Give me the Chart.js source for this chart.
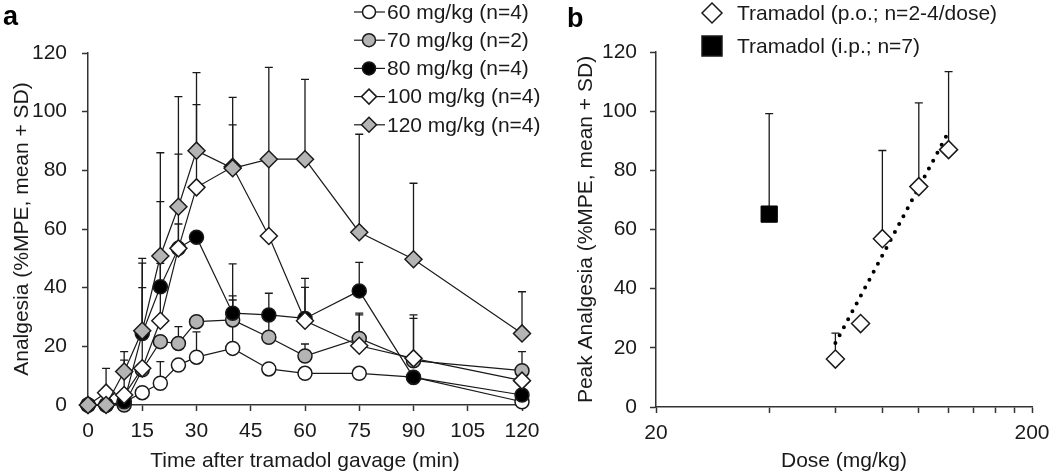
<!DOCTYPE html>
<html>
<head>
  <title>Tramadol analgesia</title>
  <script src="https://cdn.jsdelivr.net/npm/chart.js"></script>
  <style>
    body { margin: 0; background: #fff; }
    .panel { position: absolute; top: 0; }
  </style>
</head>
<body>
  <canvas id="chartA" class="panel" width="560" height="475" style="left:0"></canvas>
  <canvas id="chartB" class="panel" width="490" height="475" style="left:560px"></canvas>

  <script>
    // panel a: time course, %MPE (mean), SD drawn upward only
    const times = [0, 5, 10, 15, 20, 25, 30, 40, 50, 60, 75, 90, 120];
    const timeTicks = [0, 15, 30, 45, 60, 75, 90, 105, 120];

    const mean60 = [0, 0, 1, 4.2, 7.4, 13.6, 16.3, 19.3, 12.3, 10.8, 10.8, 9.5, 1.1];
    const sd60 = [null, null, null, null, 7.4, null, 8.6, 16.5, null, null, null, null, null];
    const mean70 = [0, 0, 0, 12, 21.6, 21.0, 28.4, 29.0, 23.1, 16.7, 22.7, 15.1, 11.7];
    const sd70 = [null, null, null, null, null, 5.7, null, 8.2, 7, 4.1, 8.6, 15.6, 6.5];
    const mean80 = [0, 0, 1.1, 24.4, 40.3, 53.4, 57.2, 31.3, 30.7, 29.5, 38.9, 9.4, 3.4];
    const sd80 = [null, null, null, 24, 29, 8.3, null, 16.8, 7.4, 13.7, 9.7, null, null];
    const mean100 = [0, 4.2, 3.4, 12.5, 28.7, 53.4, 74.2, 81.2, 57.6, 28.7, 20.2, 15.9, 8.3];
    const sd100 = [null, 8.3, 11.9, 27.5, 19.6, 32.1, 28.2, 14.3, 26, 11.4, 10.5, 13.6, null];
    const mean120 = [0, 0, 11.4, 25.3, 50.8, 67.6, 86.7, 80.7, 83.8, 83.8, 58.9, 49.7, 24.4];
    const sd120 = [null, null, 6.8, 24.7, 35.2, 37.5, 26.6, 24.2, 31.3, 27.2, 33.4, 25.9, 14.2];

    const seriesNames = ['60 mg/kg (n=4)', '70 mg/kg (n=2)', '80 mg/kg (n=4)', '100 mg/kg (n=4)', '120 mg/kg (n=4)'];

    // panel b: peak analgesia vs dose (log axis)
    const doseOral = [60, 70, 80, 100, 120];
    const peakOral = [16.2, 28.2, 56.9, 74.5, 87.0];
    const sdOral = [8.8, null, 29.8, 28.3, 26.4];
    const doseIp = [40];
    const peakIp = [65.2];
    const sdIp = [34];
    const fitDose = [60, 120];
    const fitPeak = [21.6, 93];
    const doseTicks = [20, 40, 60, 80, 100, 120, 140, 160, 180, 200];
    const doseLabels = ['20', '', '', '', '', '', '', '', '', '200'];

    const INK = '#1a1a1a';
    const AXIS = '#333';
    const GRAY = '#b4b4b4';
    Chart.defaults.font.family = '"Liberation Sans", Arial, sans-serif';
    Chart.defaults.font.size = 21;
    Chart.defaults.color = INK;

    function pts(xs, ys) {
      return xs.map((x, i) => ({ x: x, y: ys[i] }));
    }

    // draws vertical "+SD" bars through the chart's own scales
    const errorBars = {
      id: 'errorBars',
      beforeDatasetsDraw(chart) {
        const ctx = chart.ctx;
        chart.data.datasets.forEach((ds, i) => {
          if (!ds.sd) return;
          const meta = chart.getDatasetMeta(i);
          const ys = chart.scales[meta.yAxisID];
          ctx.save();
          ctx.strokeStyle = INK;
          ctx.lineWidth = 1.3;
          meta.data.forEach((pt, j) => {
            const s = ds.sd[j];
            if (s == null) return;
            const top = ys.getPixelForValue(ds.data[j].y + s);
            ctx.beginPath();
            ctx.moveTo(pt.x, pt.y);
            ctx.lineTo(pt.x, top);
            ctx.moveTo(pt.x - 4, top);
            ctx.lineTo(pt.x + 4, top);
            ctx.stroke();
          });
          ctx.restore();
        });
      }
    };

    function marker(ctx, style, r, fill, x, y) {
      ctx.save();
      ctx.fillStyle = fill;
      ctx.strokeStyle = INK;
      ctx.lineWidth = 1.5;
      ctx.beginPath();
      if (style === 'circle') {
        ctx.arc(x, y, r, 0, Math.PI * 2);
      } else if (style === 'rectRot') {
        ctx.moveTo(x - r, y); ctx.lineTo(x, y - r); ctx.lineTo(x + r, y); ctx.lineTo(x, y + r);
        ctx.closePath();
      } else {
        ctx.rect(x - r, y - r, 2 * r, 2 * r);
      }
      ctx.fill();
      ctx.stroke();
      ctx.restore();
    }

    const legendA = {
      id: 'legendA',
      afterDraw(chart) {
        const ctx = chart.ctx;
        ctx.save();
        ctx.font = 'bold 27px "Liberation Sans", Arial, sans-serif';
        ctx.fillStyle = '#000';
        ctx.textBaseline = 'alphabetic';
        ctx.fillText('a', 3, 25);
        ctx.font = '21px "Liberation Sans", Arial, sans-serif';
        ctx.textBaseline = 'middle';
        ctx.fillStyle = INK;
        chart.data.datasets.forEach((ds, i) => {
          const y = 12 + i * 28.2;
          ctx.strokeStyle = INK;
          ctx.lineWidth = 1.2;
          ctx.beginPath();
          ctx.moveTo(354, y);
          ctx.lineTo(385, y);
          ctx.stroke();
          marker(ctx, ds.pointStyle, ds.pointStyle === 'circle' ? 6.5 : 7.5, ds.pointBackgroundColor, 369, y);
          ctx.fillText(ds.label, 387, y + 1);
        });
        ctx.restore();
      }
    };

    const legendB = {
      id: 'legendB',
      afterDraw(chart) {
        const ctx = chart.ctx;
        ctx.save();
        ctx.font = 'bold 27px "Liberation Sans", Arial, sans-serif';
        ctx.fillStyle = '#000';
        ctx.fillText('b', 7, 27);
        ctx.font = '21px "Liberation Sans", Arial, sans-serif';
        ctx.textBaseline = 'middle';
        ctx.fillStyle = INK;
        marker(ctx, 'rectRot', 10, '#fff', 152, 13);
        ctx.fillText('Tramadol (p.o.; n=2-4/dose)', 177, 14);
        marker(ctx, 'rect', 10, '#000', 152, 46);
        ctx.fillText('Tramadol (i.p.; n=7)', 177, 47);
        ctx.restore();
      }
    };

    function lineSet(label, ys, sd, style, fill, radius) {
      return {
        label: label,
        data: pts(times, ys),
        sd: sd,
        borderColor: INK,
        borderWidth: 1.2,
        pointStyle: style,
        pointRadius: radius,
        pointBackgroundColor: fill,
        pointBorderColor: INK,
        pointBorderWidth: 1.5,
        clip: false
      };
    }

    const setsA = [
      lineSet(seriesNames[0], mean60, sd60, 'circle', '#fff', 7),
      lineSet(seriesNames[1], mean70, sd70, 'circle', GRAY, 7),
      lineSet(seriesNames[2], mean80, sd80, 'circle', '#000', 7),
      lineSet(seriesNames[3], mean100, sd100, 'rectRot', '#fff', 8.5),
      lineSet(seriesNames[4], mean120, sd120, 'rectRot', GRAY, 8.5)
    ];
    setsA.forEach((ds, i) => { ds.order = setsA.length - i; });

    const axisCommon = {
      border: { display: true, color: AXIS, width: 1.5 },
      grid: { drawOnChartArea: false, drawTicks: true, tickLength: 6, tickColor: AXIS, tickWidth: 1.5 }
    };

    // fixed box size; label overflow is already covered by the layout padding
    function fixX(h) {
      return s => { s.height = h; s.paddingLeft = 0; s.paddingRight = 0; };
    }

    new Chart(document.getElementById('chartA'), {
      type: 'line',
      data: { datasets: setsA },
      options: {
        responsive: false,
        animation: false,
        devicePixelRatio: 1,
        layout: { padding: { left: 0, right: 38, top: 53, bottom: 0 } },
        plugins: { legend: { display: false }, tooltip: { enabled: false } },
        scales: {
          x: {
            type: 'linear', min: 0, max: 120,
            ...axisCommon,
            afterBuildTicks: s => { s.ticks = timeTicks.map(v => ({ value: v })); },
            afterFit: fixX(70),
            ticks: { padding: 8, maxRotation: 0 },
            title: { display: true, text: 'Time after tramadol gavage (min)', padding: { top: 0, bottom: 1 } }
          },
          y: {
            min: 0, max: 120,
            ...axisCommon,
            afterFit: s => { s.width = 88; },
            ticks: { stepSize: 20, padding: 15 },
            title: { display: true, text: 'Analgesia (%MPE, mean + SD)', padding: { top: 10, bottom: 0 } }
          }
        }
      },
      plugins: [errorBars, legendA]
    });

    new Chart(document.getElementById('chartB'), {
      type: 'scatter',
      data: {
        datasets: [
          {
            label: 'fit',
            type: 'line',
            data: pts(fitDose, fitPeak),
            borderColor: '#000',
            borderWidth: 4,
            borderDash: [0, 9],
            borderCapStyle: 'round',
            pointRadius: 0,
            clip: false,
            order: 3
          },
          {
            label: 'Tramadol (p.o.; n=2-4/dose)',
            data: pts(doseOral, peakOral),
            sd: sdOral,
            pointStyle: 'rectRot',
            pointRadius: 9,
            pointBackgroundColor: '#fff',
            pointBorderColor: INK,
            pointBorderWidth: 1.5,
            clip: false,
            order: 1
          },
          {
            label: 'Tramadol (i.p.; n=7)',
            data: pts(doseIp, peakIp),
            sd: sdIp,
            pointStyle: 'rect',
            pointRadius: 11.5,
            pointBackgroundColor: '#000',
            pointBorderColor: '#000',
            pointBorderWidth: 1,
            clip: false,
            order: 2
          }
        ]
      },
      options: {
        responsive: false,
        animation: false,
        devicePixelRatio: 1,
        layout: { padding: { left: 0, right: 18, top: 52, bottom: 0 } },
        plugins: { legend: { display: false }, tooltip: { enabled: false } },
        scales: {
          x: {
            type: 'logarithmic', min: 20, max: 200,
            ...axisCommon,
            afterBuildTicks: s => { s.ticks = doseTicks.map(v => ({ value: v })); },
            afterFit: fixX(68),
            ticks: {
              padding: 8, maxRotation: 0, autoSkip: false,
              callback: (v, i) => doseLabels[i]
            },
            title: { display: true, text: 'Dose (mg/kg)', padding: { top: 0, bottom: 1 } }
          },
          y: {
            min: 0, max: 120,
            ...axisCommon,
            afterFit: s => { s.width = 96; },
            ticks: { stepSize: 20, padding: 13 },
            title: { display: true, text: 'Peak Analgesia (%MPE, mean + SD)', padding: { top: 14, bottom: 0 } }
          }
        }
      },
      plugins: [errorBars, legendB]
    });
  </script>
</body>
</html>
